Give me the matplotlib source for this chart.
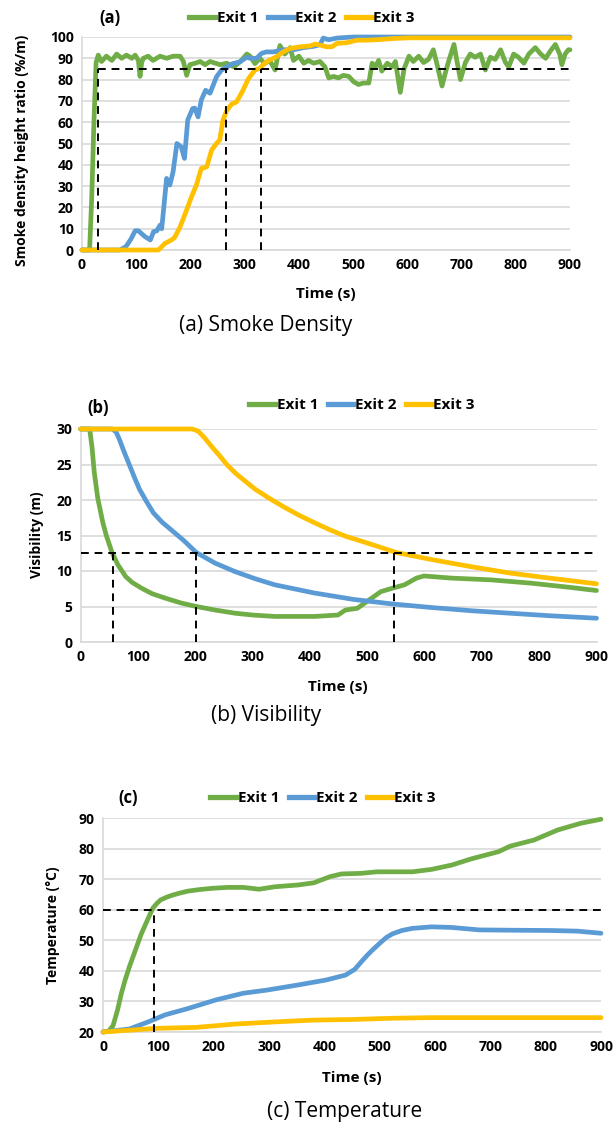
import matplotlib
matplotlib.use("Agg")
import matplotlib.pyplot as plt
from matplotlib.lines import Line2D

W, H = 613, 1127

green = '#70ad47'
blue = '#5b9bd5'
yellow = '#ffc000'
grid_c = '#d9d9d9'

# (a) smoke density height ratio
a_t1 = [0, 14, 18, 22, 26, 30, 36, 45, 55, 64, 73, 82, 92, 98, 104, 107, 110, 113, 122, 131, 144, 156, 168, 181,
        187, 193, 199, 209, 218, 227, 236, 246, 255, 267, 280, 292, 304, 310, 319, 328, 337, 346, 356, 365, 374,
        384, 390, 400, 409, 418, 427, 439, 448, 455, 464, 473, 482, 492, 501, 510, 519, 529, 535, 541, 547, 553,
        563, 572, 578, 587, 594, 603, 611, 621, 630, 639, 648, 654, 664, 670, 676, 686, 692, 698, 707, 716, 725,
        735, 744, 753, 762, 772, 781, 787, 796, 805, 815, 824, 836, 846, 855, 864, 873, 881, 885, 891, 897, 900]
a_v1 = [0, 0, 25, 60, 88, 91.5, 88.5, 91, 89, 92, 90, 91.5, 90, 91.5, 89, 81.5, 88, 90, 91, 89, 91, 90, 91, 91,
        88.5, 82, 87, 87.7, 88.5, 87, 88.5, 87.7, 87, 87.7, 86, 88.5, 92, 91, 87.5, 90, 87.5, 89, 84.5, 96, 92,
        95, 89, 91, 87.7, 89, 87.7, 88.5, 86, 80.8, 81.5, 80.8, 82, 81.5, 79, 77.7, 78.4, 78.4, 87.7, 86, 89, 84,
        87.7, 86, 88.5, 74, 85, 91, 88.5, 91, 88, 89.5, 94, 88, 77, 83, 88.5, 96.5, 88, 80, 88, 92, 90.5,
        92, 84.5, 90.5, 89.5, 94, 88, 86, 92, 90.5, 87.7, 92, 95, 92, 90, 93.5, 96.5, 92, 87, 92, 94, 94]
a_t2 = [0, 70, 81, 90, 98, 104, 116, 126, 132, 138, 144, 147, 152, 156, 162, 168, 175, 183, 189, 195, 204, 208,
        214, 220, 228, 236, 242, 248, 257, 267, 278, 291, 304, 310, 322, 331, 340, 353, 371, 390, 408, 427, 439,
        445, 455, 470, 500, 900]
a_v2 = [0, 0, 1.6, 5, 9, 9, 6.3, 4.7, 8.6, 9, 11.7, 10, 23, 33.6, 30.5, 36.7, 50, 48.4, 43, 61, 66.4, 66.6,
        62.5, 70.4, 75, 73.6, 77.4, 81.3, 84.4, 86, 87.5, 88.3, 90.5, 90, 90, 92.3, 93, 93, 94, 94, 95, 95.6, 96.4,
        99.5, 98.7, 99.5, 100, 100]
a_t3 = [0, 141, 153, 165, 171, 181, 193, 202, 211, 220, 230, 239, 248, 254, 260, 267, 276, 285, 297, 306, 310,
        319, 328, 337, 346, 359, 371, 384, 402, 421, 430, 439, 451, 461, 470, 488, 507, 525, 550, 575, 603, 900]
a_v3 = [0, 0, 3.1, 4.7, 5.9, 10.9, 18.8, 25, 30.5, 38.3, 39, 46.9, 50, 51.6, 61, 65.5, 68.5, 69.5, 75, 80, 81.5,
        84.5, 85.3, 87.7, 89.2, 90.7, 93, 94.6, 95.4, 95.8, 96.7, 96.2, 95.4, 95.4, 97, 97.3, 98.5, 98.5, 98.8,
        99.3, 99.6, 99.6]
a_limit = 85
a_cross = [30, 265, 330]

# (b) visibility
b_t1 = [0, 16, 20, 24, 30, 39, 45, 55, 65, 79, 90, 106, 125, 147, 175, 202, 235, 270, 300, 339, 408, 449, 462,
        483, 503, 524, 545, 565, 586, 599, 647, 716, 784, 853, 900]
b_v1 = [30, 30, 27.5, 23.9, 20.3, 16.8, 15, 12.6, 10.9, 9.2, 8.4, 7.6, 6.8, 6.2, 5.5, 5.0, 4.5, 4.05, 3.8, 3.6,
        3.6, 3.8, 4.5, 4.75, 5.9, 7.1, 7.6, 8.05, 9.0, 9.3, 9.0, 8.75, 8.3, 7.7, 7.25]
b_t2 = [0, 55, 62, 68, 75, 86, 95, 103, 115, 127, 142, 161, 180, 202, 235, 270, 305, 339, 408, 476, 545, 613,
        682, 750, 818, 900]
b_v2 = [30, 30, 29.6, 28.5, 27, 24.8, 23, 21.5, 19.8, 18.2, 16.9, 15.6, 14.3, 12.6, 11.1, 9.9, 8.9, 8.05, 6.9,
        6.0, 5.35, 4.85, 4.4, 4.05, 3.7, 3.35]
b_t3 = [0, 195, 205, 216, 228, 243, 255, 270, 285, 305, 330, 353, 380, 408, 435, 462, 490, 517, 551, 613, 682,
        750, 818, 900]
b_v3 = [30, 30, 29.7, 28.8, 27.6, 26.2, 25, 23.8, 22.8, 21.5, 20.2, 19.1, 17.9, 16.8, 15.8, 14.9, 14.2, 13.5,
        12.6, 11.6, 10.6, 9.7, 9.0, 8.2]
b_limit = 12.6
b_cross = [57, 202, 546]

# (c) temperature
c_t1 = [0, 10, 18, 26, 33, 40, 48, 58, 69, 80, 90, 97, 104, 115, 126, 140, 154, 175, 197, 225, 254, 282, 310, 353,
        381, 410, 431, 467, 495, 559, 594, 630, 665, 715, 736, 779, 822, 864, 900]
c_v1 = [20, 20.3, 22, 27, 32.5, 37, 41.5, 46.5, 52, 56.5, 60.5, 62, 63.2, 64.1, 64.8, 65.5, 66.1, 66.6, 67, 67.3,
        67.3, 66.7, 67.5, 68.1, 68.8, 70.8, 71.7, 71.9, 72.4, 72.4, 73.2, 74.6, 76.6, 79, 80.8, 82.8, 86.1, 88.3,
        89.6]
c_t2 = [0, 48, 83, 112, 154, 204, 254, 296, 353, 403, 438, 455, 467, 478, 488, 500, 512, 523, 540, 559, 594, 630,
        680, 736, 808, 857, 900]
c_v2 = [20, 21, 23.4, 25.6, 27.7, 30.5, 32.7, 33.7, 35.4, 37, 38.6, 40.5, 43, 45.2, 47, 49, 50.9, 52.1, 53.2,
        53.9, 54.4, 54.2, 53.4, 53.3, 53.2, 53, 52.3]
c_t3 = [0, 97, 168, 239, 310, 381, 452, 523, 594, 900]
c_v3 = [20, 21.2, 21.5, 22.6, 23.3, 23.9, 24.1, 24.5, 24.7, 24.7]
c_limit = 60
c_cross = [92]

bold = ['Open Sans', 'DejaVu Sans']
reg = ['Open Sans', 'DejaVu Sans']


def box(l, t, r, b):
    return [l / W, 1 - b / H, (r - l) / W, (b - t) / H]


def put(x, y, s, **kw):
    fig.text(x / W, 1 - y / H, s, ha='center', va='center', **kw)


def style(ax, ymin, ymax, ystep):
    ax.set_xlim(0, 900)
    ax.set_ylim(ymin, ymax)
    ax.set_xticks(range(0, 901, 100))
    ax.set_yticks(range(ymin, ymax + 1, ystep))
    ax.grid(axis='y', color=grid_c, lw=1.2, zorder=0)
    ax.set_axisbelow(True)
    for s in ['top', 'right']:
        ax.spines[s].set_visible(False)
    for s in ['left', 'bottom']:
        ax.spines[s].set_color(grid_c)
        ax.spines[s].set_linewidth(1.2)
    ax.tick_params(length=0, pad=6, labelsize=10)
    for lab in ax.get_xticklabels() + ax.get_yticklabels():
        lab.set_family(bold)
        lab.set_fontweight('bold')


def series(ax, data):
    for t, v, c in data:
        ax.plot(t, v, color=c, lw=3.4, solid_capstyle='round', solid_joinstyle='round', clip_on=False, zorder=3)


def legend(x, y):
    h = [Line2D([], [], color=c, lw=3.8) for c in [green, blue, yellow]]
    fig.legend(h, ['Exit 1', 'Exit 2', 'Exit 3'], loc='center', bbox_to_anchor=(x / W, 1 - y / H), ncol=3,
               frameon=False, handlelength=1.7, handletextpad=0.1, columnspacing=0.6,
               prop={'family': bold, 'weight': 'bold', 'size': 11})


dash = dict(color='black', lw=1.4, ls=(0, (4, 3)), zorder=4)

fig = plt.figure(figsize=(W / 100, H / 100), dpi=100)

# panel a
ax1 = fig.add_axes(box(82, 37, 570, 250))
style(ax1, 0, 100, 10)
series(ax1, [(a_t1, a_v1, green), (a_t2, a_v2, blue), (a_t3, a_v3, yellow)])
ax1.plot([a_cross[0], 900], [a_limit, a_limit], **dash)
for x in a_cross:
    ax1.plot([x, x], [0, a_limit], **dash)
put(110, 18, '(a)', family=bold, fontweight='bold', fontsize=12)
legend(302, 18)
fig.text(22 / W, 1 - 150 / H, 'Smoke density height ratio (%/m)', rotation=90, ha='center', va='center',
         family=bold, fontweight='bold', fontsize=10)
put(326, 294, 'Time (s)', family=bold, fontweight='bold', fontsize=11)
put(266, 325, '(a) Smoke Density', family=reg, fontsize=15)

# panel b
ax2 = fig.add_axes(box(80.5, 429, 596.5, 642))
style(ax2, 0, 30, 5)
series(ax2, [(b_t1, b_v1, green), (b_t2, b_v2, blue), (b_t3, b_v3, yellow)])
ax2.plot([0, 900], [b_limit, b_limit], **dash)
for x in b_cross:
    ax2.plot([x, x], [0, b_limit], **dash)
put(98, 408, '(b)', family=bold, fontweight='bold', fontsize=12)
legend(362, 405)
fig.text(37 / W, 1 - 535 / H, 'Visibility (m)', rotation=90, ha='center', va='center',
         family=bold, fontweight='bold', fontsize=10)
put(338, 687, 'Time (s)', family=bold, fontweight='bold', fontsize=11)
put(266, 716, '(b) Visibility', family=reg, fontsize=15)

# panel c
ax3 = fig.add_axes(box(103, 818, 601, 1032))
style(ax3, 20, 90, 10)
series(ax3, [(c_t1, c_v1, green), (c_t2, c_v2, blue), (c_t3, c_v3, yellow)])
ax3.plot([0, 900], [c_limit, c_limit], **dash)
for x in c_cross:
    ax3.plot([x, x], [20, c_limit], **dash)
put(128, 798, '(c)', family=bold, fontweight='bold', fontsize=12)
legend(323, 798)
fig.text(53 / W, 1 - 925 / H, 'Temperature (°C)', rotation=90, ha='center', va='center',
         family=bold, fontweight='bold', fontsize=10)
put(352, 1078, 'Time (s)', family=bold, fontweight='bold', fontsize=11)
put(345, 1112, '(c) Temperature', family=reg, fontsize=15)

fig.savefig('out.png', dpi=100)
